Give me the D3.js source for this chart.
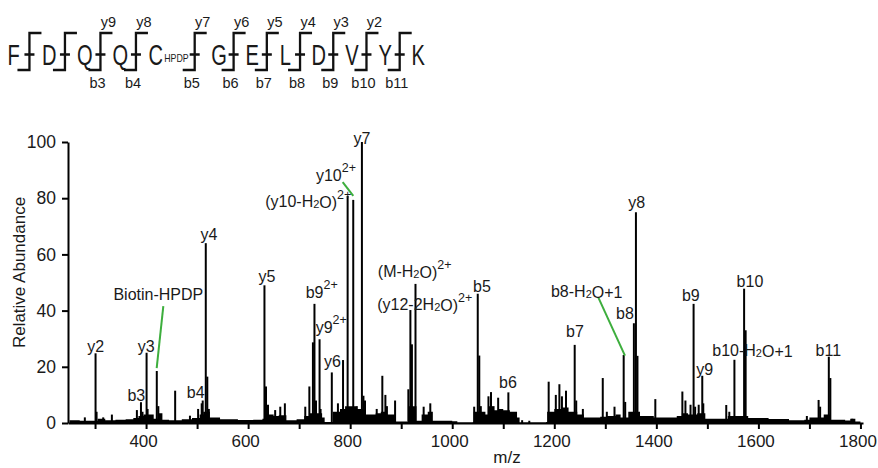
<!DOCTYPE html>
<html><head><meta charset="utf-8">
<script src="https://cdn.jsdelivr.net/npm/d3@7"></script>
<style>
body{margin:0;background:#fff}
svg text{font-family:"Liberation Sans",Arial,Helvetica,sans-serif;fill:#1a1a1a}
</style>
</head><body>
<svg id="chart" width="878" height="468"></svg>
<script>
// ---------------- DATA ----------------
const residues = ["F","D","Q","Q","C","G","E","L","D","V","Y","K"];
const modifiedResidue = {index: 4, tag: "HPDP"};
const yIonsSeen = [9,8,7,6,5,4,3,2];
const bIonsSeen = [3,4,5,6,7,8,9,10,11];

const xTickValues = [300,400,500,600,700,800,900,1000,1100,1200,1300,1400,1500,1600,1700,1800];
const xTickLabels = [400,600,800,1000,1200,1400,1600,1800];
const yTickValues = [0,20,40,60,80,100];

// noise floor (m/z, relative abundance)
const noiseMz =    [250,270,290,305,320,340,360,375,385,395,405,415,425,432,445,470,490,505,512,525,545,580,610,628,636,650,660,675,695,710,720,745,750,766,780,790,812,830,850,860,872,888,912,915,930,940,952,962,1000,1010,1040,1042,1058,1065,1070,1080,1090,1100,1113,1127,1132,1184,1186,1200,1215,1228,1245,1258,1290,1302,1320,1330,1345,1368,1395,1415,1440,1450,1462,1480,1496,1530,1540,1560,1580,1620,1660,1690,1700,1715,1728,1742,1770,1780,1790,1800];
const noiseLevel = [1.0,0.8,0.8,1.5,1.0,1.2,1.3,1.8,2.5,3.0,3.0,1.5,3.5,1.2,1.0,1.3,1.8,3.0,4.0,2.0,1.3,1.1,1.2,1.5,3.0,2.5,2.8,1.0,1.3,2.5,3.5,2.0,0.4,4.0,5.0,6.0,5.0,3.0,3.5,4.0,3.0,0.5,0.4,6.0,0.8,3.0,4.0,0.8,0.6,0.2,0.3,4.0,4.0,3.0,6.0,4.5,5.0,4.5,4.0,2.0,0.2,0.4,4.0,5.0,5.5,4.0,3.0,2.0,2.2,2.5,3.0,2.0,4.0,2.5,2.0,2.0,2.5,3.5,3.0,3.5,1.5,1.5,2.5,2.5,1.8,1.4,1.0,1.2,2.0,2.0,3.0,1.2,0.9,1.5,0.5,0.0];

// centroid peaks
const peakMz =  [280,301,303,316,333,382,390,393,401,403,421,424,429,457,486,502,509,511,517,520,523,632,635,639,653,663,672,712,720,727,730,733,740,742,764,776,786,795,806,811,813,823,826,829,852,863,869,872,888,914,918,921,928,944,957,1043,1050,1053,1056,1071,1076,1081,1090,1110,1137,1151,1189,1203,1210,1215,1223,1240,1243,1256,1295,1303,1318,1336,1339,1356,1360,1363,1398,1451,1457,1467,1473,1476,1483,1490,1492,1537,1543,1553,1572,1575,1695,1718,1721,1738,1741,1784];
const peakInt = [2,24.8,4,2,3,4.6,7.4,4,25,5,18.5,6,3,11.5,2.6,5,7,8,64,16.5,5,49,13,6.5,4.6,5.8,7,5.8,13,28.7,42.4,8,29.8,5,18,7,22.4,80.8,79.4,5,6,100,9.7,8,5,16.8,10,6,8,12,40.2,28,49.5,5.8,7,5.8,46,24,6,9.5,11,6,9,10.9,1,0.8,14.7,10,13.8,9.5,11.5,27.8,8,5,16,4,5.8,24.2,7.5,35.5,75,23.9,8.5,11.2,8,6.5,42.4,5.8,6.5,16.8,7,6.4,4,22.5,47.8,33,2.5,8.2,5.8,23.6,16,1.5];

// peak annotations: "_x" = subscript char, "^..." = superscript to end
const labelText = ["y2","y3","b3","Biotin-HPDP","b4","y4","y5","b9^2+","y9^2+","y6","y10^2+","(y10-H_2O)^2+","y7","(M-H_2O)^2+","(y12-2H_2O)^2+","b5","b6","b7","b8-H_2O+1","b8","y8","b9","y9","b10-H_2O+1","b10","b11"];
const labelMz =   [301.3,400.4,380.8,424.0,497.4,523.3,637.0,744.2,763.0,765.3,772.2,717.9,823.2,926.4,946.2,1058.3,1109.3,1240.6,1263.5,1338.5,1361.5,1467.5,1494.8,1588.4,1583.5,1737.0];
const labelAb =   [25.3,25.3,8.0,43.8,8.9,65.3,50.3,44.4,32.1,20.0,86.2,76.8,99.3,52.1,40.2,46.5,12.3,30.5,44.7,37.0,76.5,43.5,17.1,24.0,48.3,24.0];

// leader lines [mz1, ab1, mz2, ab2]
const leaders = [[433.8,41.6,420.8,19.5],[785.3,85.7,806.1,80.8],[1286.2,44.7,1338.5,24.0]];

// ---------------- LAYOUT ----------------
const svg = d3.select("#chart");
const x = d3.scaleLinear().domain([247,1805]).range([68,863]);
const y = d3.scaleLinear().domain([0,100]).range([423,142]);
const FONT = '"Liberation Sans",Arial,sans-serif';

// noise floor
const noise = noiseMz.map((m,i)=>[m,noiseLevel[i]]);
svg.append("path")
  .datum(noise)
  .attr("fill","#000")
  .attr("d", d3.area().curve(d3.curveStepAfter).x(d=>x(d[0])).y0(y(0)).y1(d=>y(d[1])));

// sticks
svg.append("g").selectAll("line").data(peakMz.map((m,i)=>[m,peakInt[i]])).join("line")
  .attr("x1",d=>x(d[0])).attr("x2",d=>x(d[0]))
  .attr("y1",y(0)).attr("y2",d=>y(d[1]))
  .attr("stroke","#000").attr("stroke-width",2);

// axes
const xAxis = svg.append("g").attr("transform",`translate(0,${y(0)})`)
  .call(d3.axisBottom(x).tickValues(xTickValues).tickSizeInner(6).tickSizeOuter(0).tickPadding(6)
    .tickFormat(d=> xTickLabels.includes(d) ? String(d) : ""));
const yAxis = svg.append("g").attr("transform",`translate(${x(247)},0)`)
  .call(d3.axisLeft(y).tickValues(yTickValues).tickSizeInner(6).tickSizeOuter(0).tickPadding(6));
[xAxis,yAxis].forEach(g=>{
  g.select(".domain").attr("stroke","#000").attr("stroke-width",2);
  g.selectAll(".tick line").attr("stroke","#000").attr("stroke-width",2);
  g.selectAll(".tick text").attr("font-size",17.5).attr("font-family",FONT).attr("fill","#1a1a1a");
});
xAxis.selectAll(".tick text").attr("font-size",17).attr("dx",-3);

svg.append("text").attr("transform","translate(25,272.5) rotate(-90)")
  .attr("text-anchor","middle").attr("font-size",17).text("Relative Abundance");
svg.append("text").attr("x",507).attr("y",463).attr("text-anchor","middle")
  .attr("font-size",17).text("m/z");

// leader lines
svg.append("g").selectAll("line").data(leaders).join("line")
  .attr("x1",d=>x(d[0])).attr("y1",d=>y(d[1])).attr("x2",d=>x(d[2])).attr("y2",d=>y(d[3]))
  .attr("stroke","#3dae3d").attr("stroke-width",2);

// rich labels
function richText(sel, str, base, small){
  let main = str, sup = null;
  const k = str.indexOf("^");
  if(k>=0){ main = str.slice(0,k); sup = str.slice(k+1); }
  const parts = main.split(/(_.)/).filter(s=>s.length);
  parts.forEach(p=>{
    if(p[0]==="_"){
      sel.append("tspan").attr("font-size",small).attr("dy",1).text(p[1]);
      sel.append("tspan").attr("font-size",base).attr("dy",-1).text("");
    } else sel.append("tspan").attr("font-size",base).text(p);
  });
  if(sup!==null){
    sel.append("tspan").attr("font-size",12.5).attr("dy",-9).text(sup);
  }
}
labelText.forEach((t,i)=>{
  const el = svg.append("text").attr("x",x(labelMz[i])).attr("y",y(labelAb[i]))
    .attr("text-anchor","middle").attr("font-size",16);
  richText(el,t,16,11);
});

// ---------------- SEQUENCE ----------------
const seqX = d3.scaleLinear().domain([0,4,4.5,5,11]).range([13.7,155.7,196.7,219,418.3]);
const seq = svg.append("g");
residues.forEach((r,i)=>{
  seq.append("text").attr("transform",`translate(${seqX(i)},65) scale(0.67,1)`)
    .attr("text-anchor","middle").attr("font-size",30).text(r);
  if(i===modifiedResidue.index){
    seq.append("text").attr("transform",`translate(${seqX(i)+8.5},62) scale(0.8,1)`)
      .attr("font-size",11).text(modifiedResidue.tag);
  }
});
const n = residues.length;
for(let i=0;i<n-1;i++){
  const sx = seqX(i+0.5)-2;
  const p = d3.path();
  p.moveTo(sx+12,33); p.lineTo(sx,33); p.lineTo(sx,70); p.lineTo(sx-12,70);
  p.moveTo(sx-5,54.5); p.lineTo(sx+5,54.5);
  seq.append("path").attr("d",p.toString()).attr("fill","none").attr("stroke","#111").attr("stroke-width",2.3);
  const yNum = n-1-i, bNum = i+1;
  if(yIonsSeen.includes(yNum))
    seq.append("text").attr("x",sx+8).attr("y",27).attr("text-anchor","middle").attr("font-size",14.5).text("y"+yNum);
  if(bIonsSeen.includes(bNum))
    seq.append("text").attr("x",sx-3).attr("y",88).attr("text-anchor","middle").attr("font-size",14.5).text("b"+bNum);
}
</script>
</body></html>
